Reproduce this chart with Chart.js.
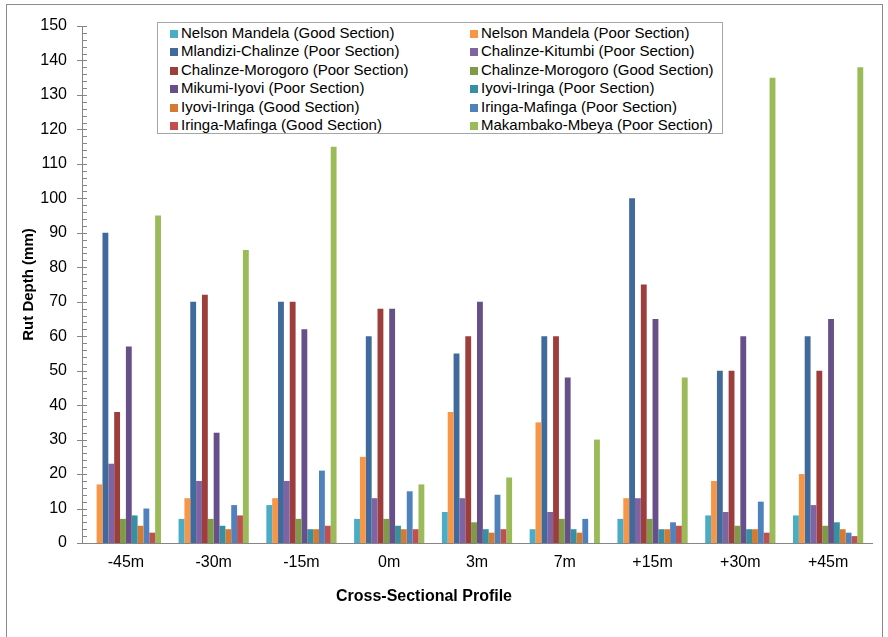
<!DOCTYPE html>
<html>
<head>
<meta charset="utf-8">
<script src="https://cdn.jsdelivr.net/npm/chart.js@4.4.1/dist/chart.umd.min.js"></script>
<style>
  html, body { margin: 0; padding: 0; background: #fff; }
  #wrap { position: relative; width: 888px; height: 637px; overflow: hidden; font-family: "Liberation Sans", Arial, sans-serif; }
  #frame { position: absolute; left: 6px; top: 4px; width: 875px; height: 700px; border: 1px solid #8c8c8c; }
  #rutChart { position: absolute; left: 0; top: 0; }
  #legend { position: absolute; left: 157px; top: 22px; width: 564px; height: 110px; border: 1px solid #a6a6a6; background: #fff; }
  .item { position: absolute; height: 18px; line-height: 18px; font-size: 15px; color: #000; white-space: nowrap; }
  .swatch { display: inline-block; width: 8px; height: 8px; margin-right: 3px; vertical-align: 0px; }
  #xTitle { position: absolute; left: 0; top: 587px; width: 848px; text-align: center; font-weight: bold; font-size: 16px; color: #000; }
</style>
</head>
<body>
<div id="wrap">
  <div id="frame"></div>
  <canvas id="rutChart" width="888" height="637"></canvas>
  <div id="legend"></div>
  <div id="xTitle">Cross-Sectional Profile</div>
</div>
<script>
const categories = ['-45m', '-30m', '-15m', '0m', '3m', '7m', '+15m', '+30m', '+45m'];

const seriesNames = [
  'Nelson Mandela (Good Section)', 'Nelson Mandela (Poor Section)',
  'Mlandizi-Chalinze (Poor Section)', 'Chalinze-Kitumbi (Poor Section)',
  'Chalinze-Morogoro (Poor Section)', 'Chalinze-Morogoro (Good Section)',
  'Mikumi-Iyovi (Poor Section)', 'Iyovi-Iringa (Poor Section)',
  'Iyovi-Iringa (Good Section)', 'Iringa-Mafinga (Poor Section)',
  'Iringa-Mafinga (Good Section)', 'Makambako-Mbeya (Poor Section)'
];

const seriesColors = [
  '#4BACC6', '#F79646', '#406A9C', '#8064A2', '#9E3E3C', '#7F9B48',
  '#67508A', '#3690A2', '#D57A2F', '#4F81BD', '#C0504D', '#9BBB59'
];

// rut depth (mm) per profile position
const nelsonGood    = [0, 7, 11, 7, 9, 4, 7, 8, 8];
const nelsonPoor    = [17, 13, 13, 25, 38, 35, 13, 18, 20];
const mlandiziPoor  = [90, 70, 70, 60, 55, 60, 100, 50, 60];
const kitumbiPoor   = [23, 18, 18, 13, 13, 9, 13, 9, 11];
const morogoroPoor  = [38, 72, 70, 68, 60, 60, 75, 50, 50];
const morogoroGood  = [7, 7, 7, 7, 6, 7, 7, 5, 5];
const mikumiPoor    = [57, 32, 62, 68, 70, 48, 65, 60, 65];
const iyoviPoor     = [8, 5, 4, 5, 4, 4, 4, 4, 6];
const iyoviGood     = [5, 4, 4, 4, 3, 3, 4, 4, 4];
const iringaPoor    = [10, 11, 21, 15, 14, 7, 6, 12, 3];
const iringaGood    = [3, 8, 5, 4, 4, 0, 5, 3, 2];
const makambakoPoor = [95, 85, 115, 17, 19, 30, 48, 135, 138];

const seriesValues = [
  nelsonGood, nelsonPoor, mlandiziPoor, kitumbiPoor, morogoroPoor, morogoroGood,
  mikumiPoor, iyoviPoor, iyoviGood, iringaPoor, iringaGood, makambakoPoor
];

const yMax = 150;
const majorStep = 10;
const minorStep = 2;

// Excel style tick marks: majors cross the axis, minors sit inside
const axisTicks = {
  id: 'axisTicks',
  afterDraw(chart) {
    const y = chart.scales.y;
    const x0 = chart.chartArea.left;
    const ctx = chart.ctx;
    ctx.save();
    ctx.strokeStyle = '#868686';
    ctx.lineWidth = 1;
    for (let v = 0; v <= yMax; v += minorStep) {
      const py = Math.round(y.getPixelForValue(v)) + 0.5;
      const major = v % majorStep === 0;
      ctx.beginPath();
      ctx.moveTo(major ? x0 - 5 : x0, py);
      ctx.lineTo(x0 + 5, py);
      ctx.stroke();
    }
    ctx.restore();
  }
};

const datasets = seriesNames.map((name, i) => ({
  label: name,
  data: seriesValues[i],
  backgroundColor: seriesColors[i],
  borderWidth: 0,
  categoryPercentage: 0.8,
  barPercentage: 1.0
}));

const chart = new Chart(document.getElementById('rutChart'), {
  type: 'bar',
  data: { labels: categories, datasets: datasets },
  options: {
    responsive: false,
    animation: false,
    devicePixelRatio: 1,
    layout: { padding: { top: 26, right: 16, left: 0, bottom: 0 } },
    plugins: {
      legend: { display: false },
      tooltip: { enabled: false }
    },
    scales: {
      x: {
        grid: { display: false, drawTicks: false },
        border: { color: '#868686', width: 1 },
        ticks: { color: '#000', padding: 10, font: { family: 'Liberation Sans', size: 16 } },
        afterFit(scale) { scale.height = 94; }
      },
      y: {
        min: 0,
        max: yMax,
        grid: { display: false, drawTicks: false },
        border: { color: '#868686', width: 1 },
        ticks: { stepSize: majorStep, color: '#000', padding: 15, font: { family: 'Liberation Sans', size: 16 } },
        title: {
          display: true,
          text: 'Rut Depth (mm)',
          color: '#000',
          padding: { top: 20, bottom: 0 },
          font: { family: 'Liberation Sans', size: 15, weight: 'bold' }
        },
        afterFit(scale) { scale.width = 82; }
      }
    }
  },
  plugins: [axisTicks]
});

// legend box, two columns, filled left to right
const legendBox = document.getElementById('legend');
chart.data.datasets.forEach((ds, i) => {
  const item = document.createElement('div');
  item.className = 'item';
  item.style.left = (i % 2 === 0 ? 12 : 312) + 'px';
  item.style.top = (1 + Math.floor(i / 2) * 18.4) + 'px';
  const sw = document.createElement('span');
  sw.className = 'swatch';
  sw.style.background = ds.backgroundColor;
  item.appendChild(sw);
  item.appendChild(document.createTextNode(ds.label));
  legendBox.appendChild(item);
});
</script>
</body>
</html>
